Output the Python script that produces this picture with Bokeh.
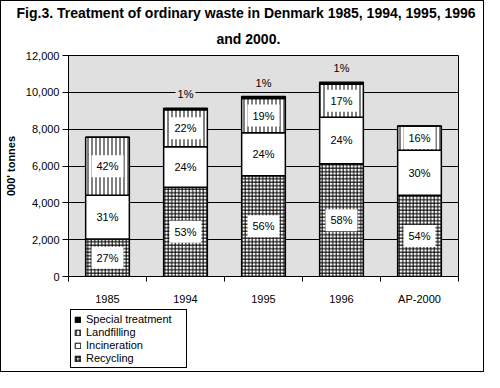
from bokeh.plotting import figure
from bokeh.layouts import column
from bokeh.models import (ColumnDataSource, FixedTicker, NumeralTickFormatter, Legend,
                          LegendItem, Title, Range1d)
from bokeh.core.properties import value
from bokeh.embed import file_html
from bokeh.resources import INLINE

# ---- data ----
years = ["1985", "1994", "1995", "1996", "AP-2000"]
recycling = [2030, 4850, 5470, 6120, 4410]
incineration = [2380, 2200, 2340, 2530, 2450]
landfilling = [3150, 2000, 1860, 1790, 1310]
special = [0, 90, 100, 110, 0]
pct_recycling = ["27%", "53%", "56%", "58%", "54%"]
pct_incineration = ["31%", "24%", "24%", "24%", "30%"]
pct_landfilling = ["42%", "22%", "19%", "17%", "16%"]
pct_special = ["", "1%", "1%", "1%", ""]
series_names = ["Recycling", "Incineration", "Landfilling", "Special treatment"]
y_ticks = [0, 2000, 4000, 6000, 8000, 10000, 12000]
title_line1 = "Fig.3. Treatment of ordinary waste in Denmark 1985, 1994, 1995, 1996"
title_line2 = "and 2000."

FONT = "Liberation Sans"
GRAY = "#E0E0E0"
STACK = ["recycling", "incineration", "landfilling", "special"]
FILLS = ["white", "white", "white", "black"]
HATCH = ["+", " ", "|", " "]
HSCALE = [3.5, 12, 4, 12]

n = len(years)
xs = [i + 0.5 for i in range(n)]
b1 = recycling
b2 = [a + b for a, b in zip(b1, incineration)]
b3 = [a + b for a, b in zip(b2, landfilling)]
tot = [a + b for a, b in zip(b3, special)]

src = ColumnDataSource(dict(
    x=xs, recycling=recycling, incineration=incineration,
    landfilling=landfilling, special=special,
    y_rec=[v / 2 for v in b1],
    y_inc=[(a + b) / 2 for a, b in zip(b1, b2)],
    y_land=[(a + b) / 2 for a, b in zip(b2, b3)],
    y_tot=tot,
    t_rec=pct_recycling, t_inc=pct_incineration, t_land=pct_landfilling, t_sp=pct_special,
))

p = figure(width=482, height=306, output_backend="svg", toolbar_location=None,
           x_range=Range1d(0, n), y_range=Range1d(0, 12000),
           min_border_left=61, min_border_right=25, min_border_top=54, min_border_bottom=0)
p.background_fill_color = GRAY
p.border_fill_color = "white"
p.outline_line_color = "black"
p.outline_line_width = 1

# bars
renderers = p.vbar_stack(STACK, x="x", width=0.56, source=src,
                         fill_color=FILLS, line_color="black", line_width=1.5,
                         hatch_pattern=HATCH, hatch_scale=HSCALE,
                         hatch_weight=1, hatch_color="black")

# labels
common = dict(source=src, x="x", text_align="center", text_baseline="middle",
              text_font=value(FONT), text_font_size="11px", text_color="black")
for ycol, tcol in [("y_rec", "t_rec"), ("y_inc", "t_inc"), ("y_land", "t_land")]:
    p.text(y=ycol, text=tcol, background_fill_color="white", padding=5, **common)
p.text(y="y_tot", text="t_sp", y_offset=-14, background_fill_color=GRAY, padding=2, **common)

# axes
p.xaxis.ticker = FixedTicker(ticks=xs, minor_ticks=list(range(n + 1)))
p.xaxis.major_label_overrides = {x: y for x, y in zip(xs, years)}
p.xaxis.major_tick_line_color = None
p.xaxis.minor_tick_in = 0
p.xaxis.minor_tick_out = 5
p.xaxis.minor_tick_line_color = "black"
p.xaxis.major_label_standoff = 10
p.xgrid.visible = False

p.yaxis.ticker = FixedTicker(ticks=y_ticks)
p.yaxis.formatter = NumeralTickFormatter(format="0,0")
p.yaxis.major_tick_in = 0
p.yaxis.major_tick_out = 6
p.yaxis.minor_tick_line_color = None
p.yaxis.axis_label = "000' tonnes"
p.yaxis.axis_label_text_font = FONT
p.yaxis.axis_label_text_font_size = "11px"
p.yaxis.axis_label_text_font_style = "bold"
p.yaxis.axis_label_text_color = "black"
p.yaxis.axis_label_standoff = 6
p.yaxis.major_label_standoff = 3
p.yaxis.major_tick_line_color = "black"
p.ygrid.grid_line_color = "black"
p.ygrid.grid_line_alpha = 1

for ax in (p.xaxis, p.yaxis):
    ax.axis_line_color = "black"
    ax.major_label_text_font = FONT
    ax.major_label_text_font_size = "11px"
    ax.major_label_text_color = "black"

# titles (closest to frame added first)
tstyle = dict(text_font=FONT, text_font_size="14px", text_font_style="bold",
              text_color="black", align="left")
p.add_layout(Title(text=title_line2, offset=148, standoff=17, **tstyle), "above")
p.add_layout(Title(text=title_line1, offset=-52, standoff=0, **tstyle), "above")

# legend strip below the chart; its bars share the data but lie outside its visible range
lf = figure(width=482, height=64, output_backend="svg", toolbar_location=None,
            x_axis_type=None, y_axis_type=None, x_range=Range1d(0, n),
            y_range=Range1d(20000, 30000), min_border=0)
lf.outline_line_color = None
lf.background_fill_color = "white"
lf.border_fill_color = "white"
lf.grid.visible = False
leg_r = lf.vbar_stack(STACK, x="x", width=0.56, source=src,
                      fill_color=FILLS, line_color="black", line_width=1,
                      hatch_pattern=HATCH, hatch_scale=[h * 0.8 for h in HSCALE],
                      hatch_weight=1, hatch_color="black")
items = [LegendItem(label=series_names[i], renderers=[leg_r[i]]) for i in (3, 2, 1, 0)]
legend = Legend(items=items, location=(2, 3), orientation="vertical",
                label_text_font=FONT, label_text_font_size="11px", label_text_color="black",
                glyph_width=7, glyph_height=7, label_height=11, label_width=97,
                label_standoff=5, spacing=1, padding=3, margin=0,
                border_line_color="black", border_line_width=1, border_line_alpha=1,
                background_fill_color="white", background_fill_alpha=1)
lf.add_layout(legend)

layout = column(p, lf, spacing=0, styles={"border": "1px solid black"})
open("out.html", "w").write(file_html(layout, INLINE))
